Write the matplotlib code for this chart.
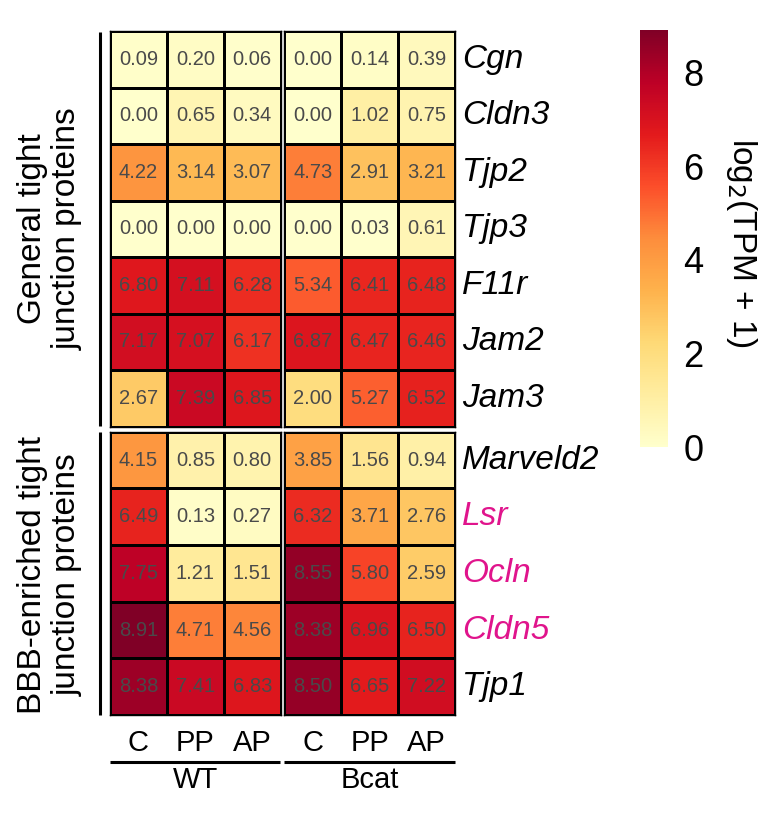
import matplotlib
matplotlib.use("Agg")
import matplotlib.pyplot as plt
import numpy as np

plt.rcParams['font.family'] = ['Liberation Sans', 'DejaVu Sans']

## data (log2(TPM+1))
genes = ['Cgn', 'Cldn3', 'Tjp2', 'Tjp3', 'F11r', 'Jam2', 'Jam3',
         'Marveld2', 'Lsr', 'Ocln', 'Cldn5', 'Tjp1']
highlight = ['Lsr', 'Ocln', 'Cldn5']
conditions = ['C', 'PP', 'AP']
groups = ['WT', 'Bcat']
wt_c = [0.09, 0.00, 4.22, 0.00, 6.80, 7.17, 2.67, 4.15, 6.49, 7.75, 8.91, 8.38]
wt_pp = [0.20, 0.65, 3.14, 0.00, 7.11, 7.07, 7.39, 0.85, 0.13, 1.21, 4.71, 7.41]
wt_ap = [0.06, 0.34, 3.07, 0.00, 6.28, 6.17, 6.85, 0.80, 0.27, 1.51, 4.56, 6.83]
bcat_c = [0.00, 0.00, 4.73, 0.00, 5.34, 6.87, 2.00, 3.85, 6.32, 8.55, 8.38, 8.50]
bcat_pp = [0.14, 1.02, 2.91, 0.03, 6.41, 6.47, 5.27, 1.56, 3.71, 5.80, 6.96, 6.65]
bcat_ap = [0.39, 0.75, 3.21, 0.61, 6.48, 6.46, 6.52, 0.94, 2.76, 2.59, 6.50, 7.22]
n_general = 7  # first 7 genes: general tight junction proteins
row_groups = ['General tight\njunction proteins', 'BBB-enriched tight\njunction proteins']

W, H = 776, 815
fig = plt.figure(figsize=(W/100, H/100), dpi=100)

def pix_axes(x0, y0, x1, y1):
    # axes from pixel box (top-left origin)
    return fig.add_axes([x0/W, 1-y1/H, (x1-x0)/W, (y1-y0)/H])

cmap = plt.get_cmap('YlOrRd')
vmax = max(max(wt_c), max(bcat_c))
norm = matplotlib.colors.Normalize(0, vmax)

blocks = {'WT': np.array([wt_c, wt_pp, wt_ap]).T,
          'Bcat': np.array([bcat_c, bcat_pp, bcat_ap]).T}
xs = {'WT': (110, 280.7), 'Bcat': (284.3, 455)}
ys = [(31, 426.5, slice(0, n_general)), (431.7, 715, slice(n_general, len(genes)))]

for g in groups:
    for (y0, y1, sl) in ys:
        ax = pix_axes(xs[g][0], y0, xs[g][1], y1)
        M = blocks[g][sl]
        ax.pcolormesh(M, cmap=cmap, norm=norm, edgecolors='black', linewidth=0.9)
        ax.set_xlim(0, 3)
        ax.set_ylim(M.shape[0], 0)
        ax.set_xticks([]); ax.set_yticks([])
        for s in ax.spines.values():
            s.set_linewidth(1.0)
        for i in range(M.shape[0]):
            for j in range(3):
                ax.text(j+0.5, i+0.5, '%.2f' % M[i, j], ha='center', va='center',
                        fontsize=14.5, color='#4a4a4a')

# overlay axes in pixel coords for labels and lines
ov = fig.add_axes([0, 0, 1, 1])
ov.set_xlim(0, W); ov.set_ylim(H, 0)
ov.axis('off')

# row labels
row_h = [(426.5-31)/n_general, (715-431.7)/(len(genes)-n_general)]
for k, gene in enumerate(genes):
    if k < n_general:
        yc = 31 + (k+0.5)*row_h[0]
    else:
        yc = 431.7 + (k-n_general+0.5)*row_h[1]
    ov.text(462, yc, gene, ha='left', va='center', fontsize=24, style='italic',
            color='#E0148C' if gene in highlight else 'black')

# left brackets and group labels
ov.plot([100, 100], [32, 426], color='black', lw=2.2, solid_capstyle='butt')
ov.plot([100, 100], [431.5, 715], color='black', lw=2.2, solid_capstyle='butt')
ov.text(50, 229, row_groups[0], rotation=90, ha='center', va='center',
        fontsize=24, linespacing=1.15)
ov.text(50, 575, row_groups[1], rotation=90, ha='center', va='center',
        fontsize=24, linespacing=1.15)

# column labels and group lines
for g in groups:
    x0, x1 = xs[g]
    cw = (x1-x0)/3
    for j, c in enumerate(conditions):
        ov.text(x0 + (j+0.5)*cw, 743, c, ha='center', va='center', fontsize=21)
    ov.plot([x0, x1 - 0.5], [762, 762], color='black', lw=2.2, solid_capstyle='butt')
    ov.text((x0+x1)/2, 780, g, ha='center', va='center', fontsize=21)

# colorbar
cax = pix_axes(640, 30, 668, 447)
cb = fig.colorbar(matplotlib.cm.ScalarMappable(norm=norm, cmap=cmap), cax=cax,
                  ticks=[0, 2, 4, 6, 8])
cb.outline.set_visible(False)
cax.tick_params(length=0, labelsize=26, pad=11)
ov.text(742, 243, r'log$_2$(TPM + 1)', rotation=270, ha='center', va='center', fontsize=24)

fig.savefig('out.png', dpi=100)
